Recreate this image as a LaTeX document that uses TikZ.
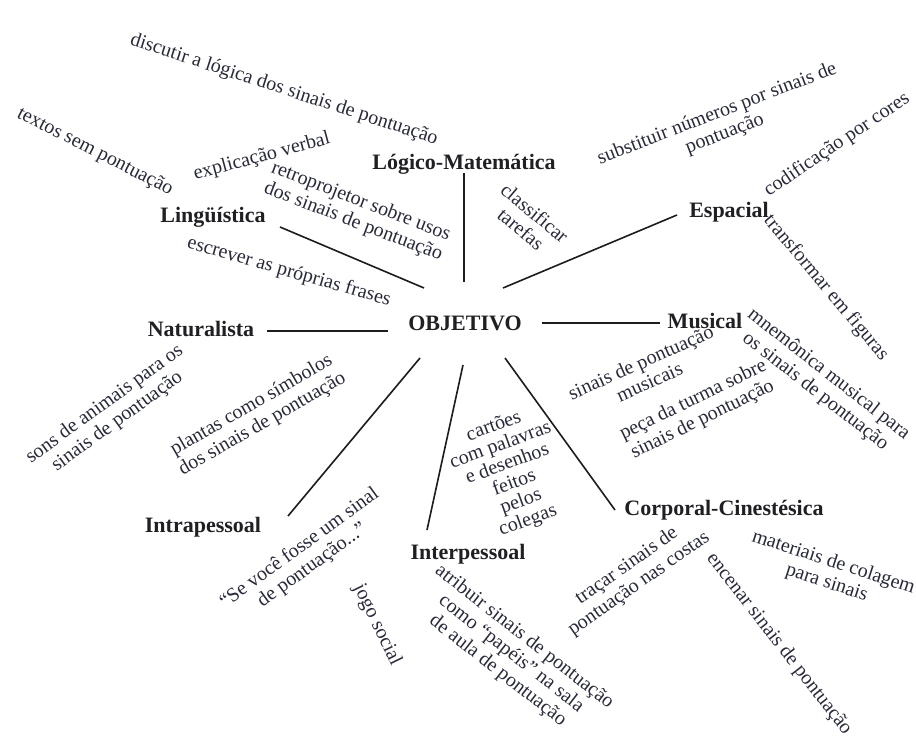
\documentclass[tikz,border=0pt]{standalone}
\usepackage{fontspec}
\setmainfont{Liberation Serif}
\definecolor{labc}{RGB}{32,32,36}
\definecolor{txtc}{RGB}{40,42,58}
\definecolor{linec}{RGB}{28,28,30}
\begin{document}
\begin{tikzpicture}[x=1pt,y=-1pt,
  lab/.style={font=\fontsize{22}{24}\selectfont\bfseries, text=labc, inner sep=0pt, text height=15pt, text depth=0pt},
  idea/.style={font=\fontsize{20}{21.5}\selectfont, text=txtc, align=center, inner sep=0pt},
  conn/.style={line width=1.6pt, draw=linec}]
\useasboundingbox[fill=white] (0,0) rectangle (916,738);

% main labels
\node[lab] (logico) at (464,162) {Lógico-Matemática};
\node[lab] (ling)   at (213,215) {Lingüística};
\node[lab] (esp)    at (729,210) {Espacial};
\node[lab] (nat)    at (201,329) {Naturalista};
\node[lab] (obj)    at (465,323) {OBJETIVO};
\node[lab] (mus)    at (705,321) {Musical};
\node[lab] (intra)  at (203,525) {Intrapessoal};
\node[lab] (inter)  at (468,552) {Interpessoal};
\node[lab] (corp)   at (724,508) {Corporal-Cinestésica};

% connector end points
\coordinate (logico-end) at (464,173);  \coordinate (obj-logico) at (464,282);
\coordinate (ling-end)   at (280,227);  \coordinate (obj-ling)   at (424,288);
\coordinate (esp-end)    at (677,215);  \coordinate (obj-esp)    at (503,288);
\coordinate (nat-end)    at (267,331);  \coordinate (obj-nat)    at (388,331);
\coordinate (mus-end)    at (660,323);  \coordinate (obj-mus)    at (542,323);
\coordinate (intra-end)  at (288,516);  \coordinate (obj-intra)  at (420,358);
\coordinate (inter-end)  at (427,530);  \coordinate (obj-inter)  at (463,365);
\coordinate (corp-end)   at (615,510);  \coordinate (obj-corp)   at (505,358);

\draw[conn] (logico-end) -- (obj-logico);
\draw[conn] (ling-end) -- (obj-ling);
\draw[conn] (esp-end) -- (obj-esp);
\draw[conn] (nat-end) -- (obj-nat);
\draw[conn] (mus-end) -- (obj-mus);
\draw[conn] (intra-end) -- (obj-intra);
\draw[conn] (inter-end) -- (obj-inter);
\draw[conn] (corp-end) -- (obj-corp);

% ideas
\node[idea, rotate=-18] (discutir) at (284,90) {discutir a lógica dos sinais de pontuação};
\node[idea, rotate=-27] (textos) at (95,152) {textos sem pontuação};
\node[idea, rotate=15] (explic) at (262,157) {explicação verbal};
\node[idea, rotate=-21] (retro) at (357,212) {retroprojetor sobre usos\\dos sinais de pontuação};
\node[idea, rotate=-16] (escrever) at (289,272) {escrever as próprias frases};
\node[idea, rotate=-40] (classif) at (528,221) {classificar\\tarefas};
\node[idea, rotate=21] (subst) at (721,124) {substituir números por sinais de\\pontuação};
\node[idea, rotate=34] (codif) at (837,145) {codificação por cores};
\node[idea, rotate=-50] (transf) at (826,288) {transformar em figuras};
\node[idea, rotate=-38] (mnem) at (822,383) {mnemônica musical para\\os sinais de pontuação};
\node[idea, rotate=24] (sinmus) at (645,372) {sinais de pontuação\\musicais};
\node[idea, rotate=26] (peca) at (698,410) {peça da turma sobre\\sinais de pontuação};
\node[idea, rotate=20, font=\fontsize{20}{20}\selectfont] (cartoes) at (511,474) {cartões\\com palavras\\e desenhos\\feitos\\pelos\\colegas};
\node[idea, rotate=30] (plantas) at (257,415) {plantas como símbolos\\dos sinais de pontuação};
\node[idea, rotate=36] (sons) at (111,413) {sons de animais para os\\sinais de pontuação};
\node[idea, rotate=36] (sevoce) at (306,557) {“Se você fosse um sinal\\de pontuação...”};
\node[idea, rotate=-64] (jogo) at (377,625) {jogo social};
\node[idea, rotate=-38] (atribuir) at (511,654) {atribuir sinais de pontuação\\como “papéis” na sala\\de aula de pontuação};
\node[idea, rotate=35] (tracar) at (633,575) {traçar sinais de\\pontuação nas costas};
\node[idea, rotate=-52] (encenar) at (779,644) {encenar sinais de pontuação};
\node[idea, rotate=-18] (materiais) at (830,573) {materiais de colagem\\para sinais};
\end{tikzpicture}
\end{document}
